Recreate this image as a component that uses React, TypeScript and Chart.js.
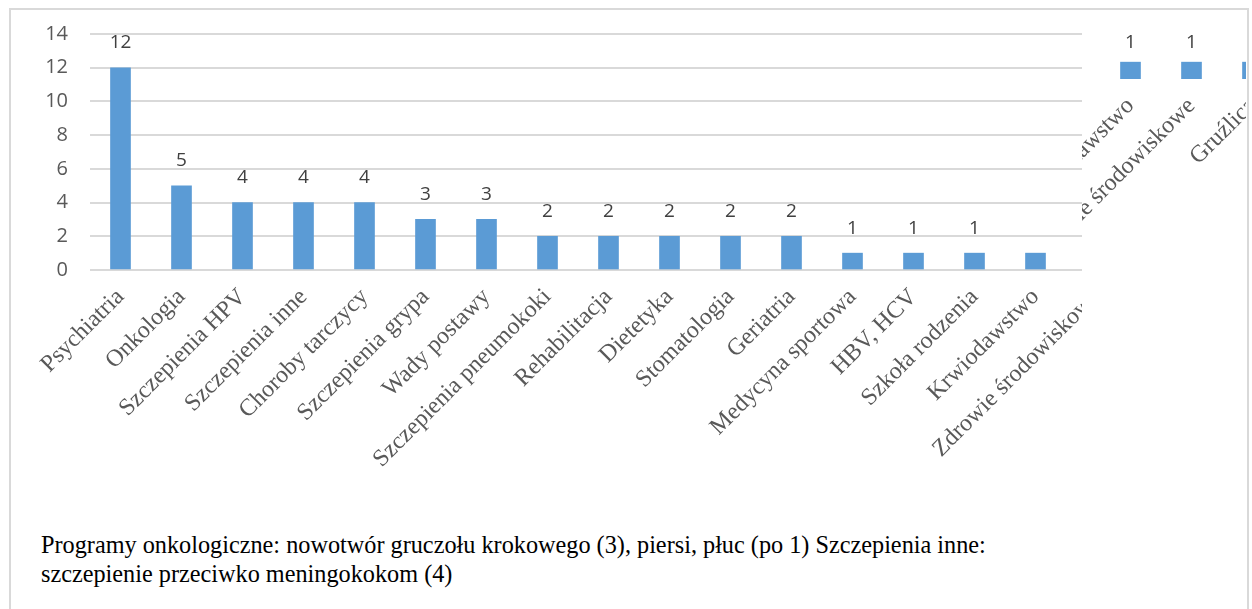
import React, { useEffect, useRef } from "react";
import { Chart, registerables } from "chart.js";

Chart.register(...registerables);

const categories = [
  "Psychiatria",
  "Onkologia",
  "Szczepienia HPV",
  "Szczepienia inne",
  "Choroby tarczycy",
  "Szczepienia grypa",
  "Wady postawy",
  "Szczepienia pneumokoki",
  "Rehabilitacja",
  "Dietetyka",
  "Stomatologia",
  "Geriatria",
  "Medycyna sportowa",
  "HBV, HCV",
  "Szkoła rodzenia",
  "Krwiodawstwo",
  "Zdrowie środowiskowe",
  "Gruźlica",
];
const counts = [12, 5, 4, 4, 4, 3, 3, 2, 2, 2, 2, 2, 1, 1, 1, 1, 1, 1];
const yTicks = [0, 2, 4, 6, 8, 10, 12, 14];
const captionLines = [
  "Programy onkologiczne: nowotwór gruczołu krokowego (3), piersi, płuc (po 1) Szczepienia inne:",
  "szczepienie przeciwko meningokokom (4)",
];

const CANVAS_W = 1188;
const CANVAS_H = 520;
const PLOT_LEFT = 90;
const PLOT_TOP = 34;
const PLOT_BOTTOM = 270;

const valueLabels = {
  id: "valueLabels",
  afterDatasetsDraw(chart: any, _args: any, opts: any) {
    const ctx = chart.ctx;
    const meta = chart.getDatasetMeta(0);
    ctx.save();
    ctx.font = "19px 'Open Sans', 'Noto Sans', sans-serif";
    ctx.fillStyle = "#404040";
    ctx.textAlign = "center";
    ctx.textBaseline = "middle";
    meta.data.forEach((bar: any, i: number) => {
      if (i < opts.from || i > opts.to) return;
      ctx.fillText(String(counts[i]), bar.x, bar.y - opts.offset);
    });
    ctx.restore();
  },
};

function makeChart(canvas: HTMLCanvasElement, fragment: boolean) {
  return new Chart(canvas, {
    type: "bar",
    data: {
      labels: categories,
      datasets: [
        {
          data: counts,
          backgroundColor: "#5b9bd5",
          barThickness: 20,
        },
      ],
    },
    plugins: [valueLabels as any],
    options: {
      responsive: false,
      animation: false,
      events: [],
      layout: { padding: { top: PLOT_TOP, left: 0, right: 0, bottom: 0 } },
      plugins: {
        legend: { display: false },
        tooltip: { enabled: false },
        title: { display: false },
        valueLabels: fragment
          ? { from: 15, to: 17, offset: 20 }
          : { from: 0, to: 14, offset: 25 },
      } as any,
      scales: {
        x: {
          grid: { display: false },
          border: { display: false },
          ticks: {
            autoSkip: false,
            minRotation: 45,
            maxRotation: 45,
            padding: 5,
            color: "#595959",
            font: { family: "'Liberation Serif', 'Times New Roman', serif", size: 24 },
          },
          afterFit(scale: any) {
            scale.height = CANVAS_H - PLOT_BOTTOM;
          },
        },
        y: {
          min: yTicks[0],
          max: yTicks[yTicks.length - 1],
          border: { display: false },
          grid: {
            display: !fragment,
            color: "#d9d9d9",
            lineWidth: 2,
            drawTicks: false,
          },
          ticks: {
            stepSize: yTicks[1] - yTicks[0],
            padding: 22,
            color: "#595959",
            font: { family: "'Open Sans', 'Noto Sans', sans-serif", size: 20 },
          },
          afterFit(scale: any) {
            scale.width = PLOT_LEFT;
          },
        },
      },
    },
  });
}

export default function App() {
  const mainRef = useRef<HTMLCanvasElement>(null);
  const fragRef = useRef<HTMLCanvasElement>(null);

  useEffect(() => {
    const a = makeChart(mainRef.current!, false);
    const b = makeChart(fragRef.current!, true);
    return () => {
      a.destroy();
      b.destroy();
    };
  }, []);

  return (
    <div
      style={{
        position: "absolute",
        left: 0,
        top: 0,
        width: 1252,
        height: 609,
        overflow: "hidden",
        background: "#ffffff",
      }}
    >
      <div
        style={{
          position: "absolute",
          left: 9,
          top: 8,
          width: 1236,
          height: 700,
          border: "2px solid #d9d9d9",
        }}
      />
      <div
        style={{
          position: "absolute",
          left: 0,
          top: 0,
          width: 1082,
          height: CANVAS_H,
          overflow: "hidden",
        }}
      >
        <canvas
          ref={mainRef}
          width={CANVAS_W}
          height={CANVAS_H}
          style={{ position: "absolute", left: 0, top: 0, display: "block" }}
        />
      </div>
      <div
        style={{
          position: "absolute",
          left: 1082,
          top: 10,
          width: 164,
          height: 300,
          overflow: "hidden",
        }}
      >
        <canvas
          ref={fragRef}
          width={CANVAS_W}
          height={CANVAS_H}
          style={{ position: "absolute", left: 95 - 1082, top: -191 - 10, display: "block" }}
        />
      </div>
      <div
        style={{
          position: "absolute",
          left: 41,
          top: 530,
          fontFamily: "'Liberation Serif', 'Times New Roman', serif",
          fontSize: 24.25,
          lineHeight: "29px",
          color: "#000000",
          whiteSpace: "nowrap",
        }}
      >
        {captionLines.map((l, i) => (
          <div key={i}>{l}</div>
        ))}
      </div>
    </div>
  );
}
